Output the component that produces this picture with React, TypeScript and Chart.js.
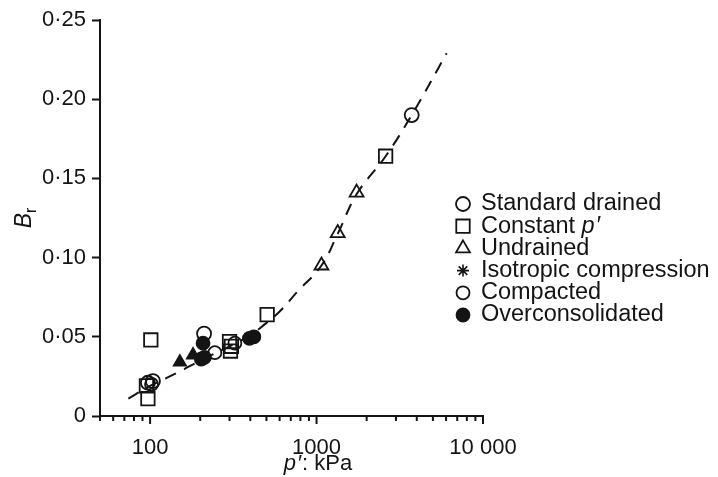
import React, { useEffect, useRef } from 'react';
import { Chart, registerables } from 'chart.js';
import { drawPoint } from 'chart.js/helpers';

Chart.register(...registerables);

// ---- data (p' in kPa, B_r) ----
const standardDrainedP = [97, 104, 211, 3730];
const standardDrainedB = [0.021, 0.022, 0.052, 0.19];

const constantPP = [101, 97, 95, 300, 308, 304, 505, 2600];
const constantPB = [0.048, 0.011, 0.019, 0.047, 0.044, 0.041, 0.064, 0.164];

const undrainedP = [1070, 1340, 1740];
const undrainedB = [0.095, 0.1155, 0.141];

const undrainedOcP = [151, 181];
const undrainedOcB = [0.034, 0.0385];

const isotropicP = [410];
const isotropicB = [0.049];

const compactedP = [102, 245, 323];
const compactedB = [0.02, 0.04, 0.046];

const overconsolidatedP = [208, 203, 212, 395, 420];
const overconsolidatedB = [0.046, 0.036, 0.037, 0.049, 0.05];

const trendP = [74, 100, 147, 200, 300, 400, 490, 600, 760, 1070, 1340, 1740, 2600, 3730, 6050];
const trendB = [0.011, 0.019, 0.0275, 0.035, 0.044, 0.051, 0.058, 0.066, 0.078, 0.095, 0.115, 0.14, 0.164, 0.19, 0.229];

const xTickValues = [50, 60, 70, 80, 90, 100, 200, 300, 400, 500, 600, 700, 800, 900, 1000,
  2000, 3000, 4000, 5000, 6000, 7000, 8000, 9000, 10000];
const xMajorTicks = [100, 1000, 10000];
const xTickLabels = ['100', '1000', '10 000'];

const legendLabels = ['Standard drained', 'Constant p′', 'Undrained', 'Isotropic compression', 'Compacted', 'Overconsolidated'];

const xTitle = 'p′: kPa';

const FONT = '"Liberation Sans", Arial, Helvetica, sans-serif';
const INK = '#141414';

const pts = (xs: number[], ys: number[]) => xs.map((x, i) => ({ x, y: ys[i] }));

type Seg = { t: string; italic?: boolean; sub?: boolean; pad?: number };

function segsFor(label: string): Seg[] {
  const out: Seg[] = [];
  for (const part of label.split(/(p(?=′))/)) {
    if (part) out.push({ t: part, italic: part === 'p', pad: part === 'p' ? 2 : 0 });
  }
  return out;
}

function drawSegs(ctx: CanvasRenderingContext2D, segs: Seg[], x: number, y: number, size: number, align: 'left' | 'center') {
  const fontOf = (s: Seg) => `${s.italic ? 'italic ' : ''}${s.sub ? Math.round(size * 0.68) : size}px ${FONT}`;
  let total = 0;
  for (const s of segs) {
    ctx.font = fontOf(s);
    total += ctx.measureText(s.t).width + (s.pad || 0);
  }
  let cx = align === 'center' ? x - total / 2 : x;
  ctx.textAlign = 'left';
  ctx.textBaseline = 'middle';
  for (const s of segs) {
    ctx.font = fontOf(s);
    ctx.fillText(s.t, cx, y + (s.sub ? size * 0.3 : 0));
    cx += ctx.measureText(s.t).width + (s.pad || 0);
  }
}

const decorPlugin = {
  id: 'decor',
  afterDraw(chart: any) {
    const ctx: CanvasRenderingContext2D = chart.ctx;
    const xs = chart.scales.x;
    const area = chart.chartArea;
    ctx.save();
    // x tick marks
    ctx.strokeStyle = INK;
    ctx.lineWidth = 2;
    for (const t of xs.ticks) {
      const px = xs.getPixelForValue(t.value);
      const len = xMajorTicks.includes(t.value) ? 8 : 5;
      ctx.beginPath();
      ctx.moveTo(px, area.bottom);
      ctx.lineTo(px, area.bottom + len);
      ctx.stroke();
    }
    ctx.fillStyle = INK;
    // x title
    drawSegs(ctx, segsFor(xTitle), 318, 464, 22, 'center');
    // y title
    ctx.save();
    ctx.translate(25, (area.top + area.bottom) / 2);
    ctx.rotate(-Math.PI / 2);
    drawSegs(ctx, [{ t: 'B', italic: true }, { t: 'r', sub: true }], 0, 0, 23, 'center');
    ctx.restore();
    // legend
    const x0 = 463;
    const y0 = 204;
    const step = 22.2;
    legendLabels.forEach((label, i) => {
      const ds = chart.data.datasets.find((d: any) => d.label === label);
      if (!ds) return;
      const y = y0 + i * step;
      ctx.save();
      ctx.fillStyle = ds.backgroundColor;
      ctx.strokeStyle = ds.borderColor;
      ctx.lineWidth = ds.borderWidth;
      drawPoint(ctx, { pointStyle: ds.pointStyle, radius: ds.pointRadius, rotation: 0, borderWidth: ds.borderWidth } as any, x0, y);
      ctx.restore();
      ctx.fillStyle = INK;
      drawSegs(ctx, segsFor(label), x0 + 18, y, 23.5, 'left');
    });
    ctx.restore();
  },
};

export default function App() {
  const ref = useRef<HTMLCanvasElement | null>(null);

  useEffect(() => {
    if (!ref.current) return;
    const marker = (label: string, xs: number[], ys: number[], style: string, r: number, filled: boolean, bw = 1.8) => ({
      label,
      data: pts(xs, ys),
      pointStyle: style,
      pointRadius: r,
      pointHoverRadius: r,
      borderWidth: bw,
      borderColor: INK,
      backgroundColor: filled ? INK : 'rgba(0,0,0,0)',
      showLine: false,
      order: 0,
    });
    const chart = new Chart(ref.current, {
      type: 'scatter',
      data: {
        datasets: [
          marker('Standard drained', standardDrainedP, standardDrainedB, 'circle', 7, false),
          marker('Constant p′', constantPP, constantPB, 'rect', 9.5, false),
          marker('Undrained', undrainedP, undrainedB, 'triangle', 8, false),
          marker('Undrained (overconsolidated)', undrainedOcP, undrainedOcB, 'triangle', 7, true),
          marker('Isotropic compression', isotropicP, isotropicB, 'star', 6, false, 1.6),
          marker('Compacted', compactedP, compactedB, 'circle', 6.5, false),
          marker('Overconsolidated', overconsolidatedP, overconsolidatedB, 'circle', 6.5, true),
          {
            label: 'trend',
            data: pts(trendP, trendB),
            showLine: true,
            pointRadius: 0,
            borderColor: INK,
            borderWidth: 2,
            borderDash: [12, 9],
            tension: 0.4,
            fill: false,
            order: 10,
          } as any,
        ],
      },
      options: {
        animation: false,
        responsive: false,
        events: [],
        layout: { padding: { left: 0, right: 235, top: 20, bottom: 0 } },
        plugins: { legend: { display: false }, tooltip: { enabled: false } },
        scales: {
          x: {
            type: 'logarithmic',
            min: 50,
            max: 10000,
            afterBuildTicks: (scale: any) => {
              scale.ticks = xTickValues.map((v) => ({ value: v, major: xMajorTicks.includes(v) }));
            },
            afterFit: (scale: any) => {
              scale.height = 61;
            },
            grid: { display: false },
            border: { display: true, color: INK, width: 2 },
            ticks: {
              autoSkip: false,
              maxRotation: 0,
              padding: 11,
              color: INK,
              font: { family: FONT, size: 22 },
              callback: (v: any) => {
                const i = xMajorTicks.indexOf(Number(v));
                return i >= 0 ? xTickLabels[i] : '';
              },
            },
          },
          y: {
            type: 'linear',
            min: 0,
            max: 0.25,
            afterFit: (scale: any) => {
              scale.width = 100;
            },
            grid: { drawOnChartArea: false, drawTicks: true, tickLength: 8, tickWidth: 2, tickColor: INK },
            border: { display: true, color: INK, width: 2 },
            ticks: {
              stepSize: 0.05,
              padding: 6,
              color: INK,
              font: { family: FONT, size: 22 },
              callback: (v: any) => (Number(v) === 0 ? '0' : Number(v).toFixed(2).replace('.', '·')),
            },
          },
        },
      },
      plugins: [decorPlugin],
    } as any);
    return () => chart.destroy();
  }, []);

  return (
    <div style={{ position: 'absolute', left: 0, top: 0, width: 718, height: 477, background: '#fff' }}>
      <canvas ref={ref} width={718} height={477} style={{ display: 'block' }} />
    </div>
  );
}
